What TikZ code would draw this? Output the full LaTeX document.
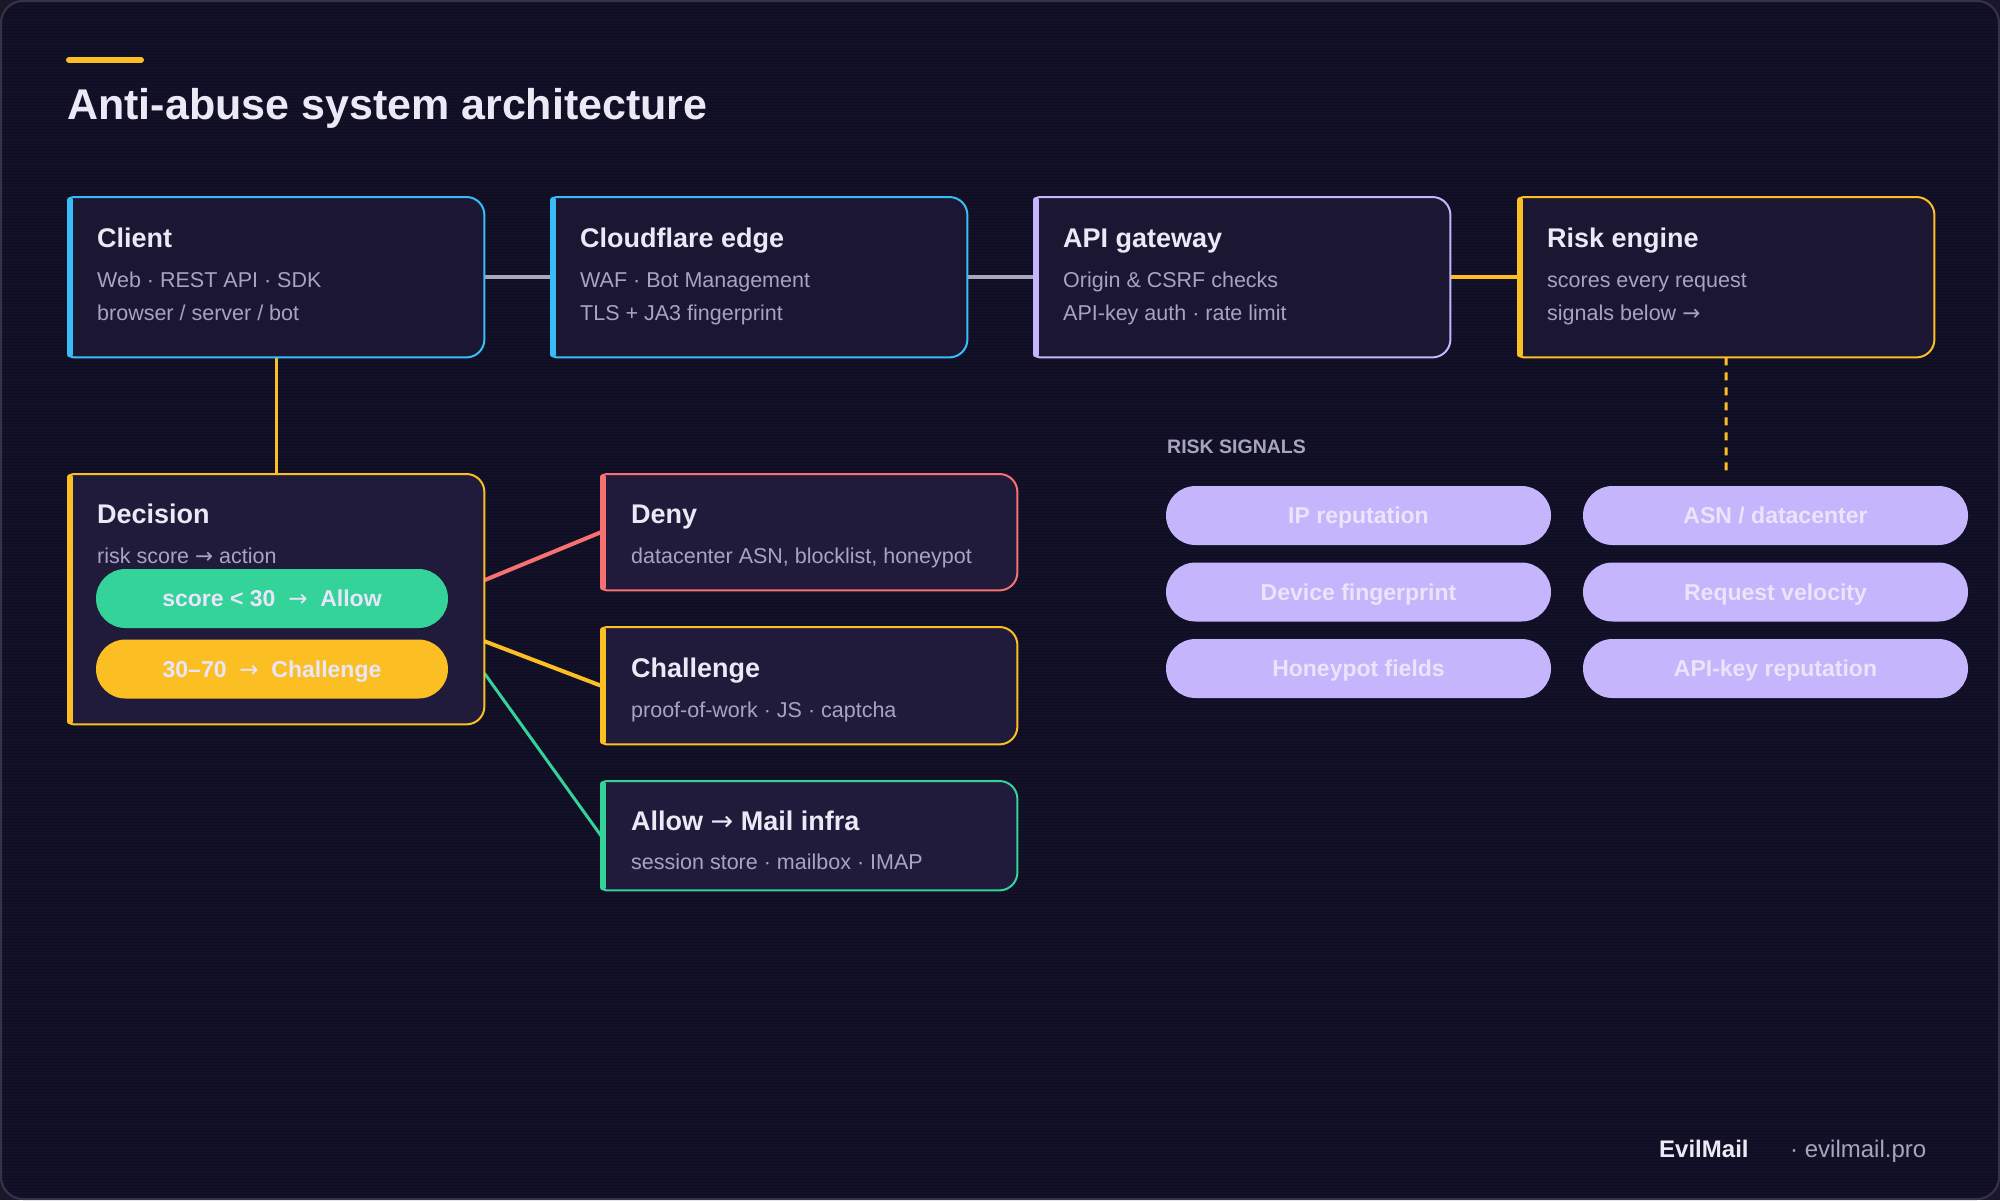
\documentclass[tikz,border=0pt]{standalone}
\usepackage{fontspec}
\setmainfont{Liberation Sans}
\newfontfamily\arrowfont{DejaVu Sans}
\newcommand{\arr}{{\arrowfont\mdseries →}}
\usetikzlibrary{calc}
\definecolor{page}{HTML}{1A1828}
\definecolor{bg}{HTML}{131128}
\definecolor{stripe}{HTML}{0F0D22}
\definecolor{framec}{HTML}{35334B}
\definecolor{cardA}{HTML}{1B1733}
\definecolor{cardB}{HTML}{211B3B}
\definecolor{cyanc}{HTML}{38BDF8}
\definecolor{lav}{HTML}{C4B5FD}
\definecolor{amber}{HTML}{FBBF24}
\definecolor{rose}{HTML}{F87171}
\definecolor{mint}{HTML}{34D399}
\definecolor{ink}{HTML}{ECE9F7}
\definecolor{muted}{HTML}{A8A4C0}
\definecolor{wire}{HTML}{A9A7BD}
\definecolor{pilltext}{HTML}{E9E5FB}
\newcommand{\fsz}[1]{\fontsize{#1}{#1}\selectfont}
\newcommand{\drawcard}[3]{%
  \draw[draw=#2, line width=2pt, fill=#3] (#1.west) [rounded corners=6pt] -- (#1.north west) -- (#1.north) [rounded corners=18pt] -- (#1.north east) -- (#1.south east) -- (#1.south) [rounded corners=6pt] -- (#1.south west) -- cycle;
  \draw[#2, line width=6pt, line cap=round] ([xshift=2pt,yshift=-3pt]#1.north west) -- ([xshift=2pt,yshift=3pt]#1.south west);
}
\tikzset{
  cardbox/.style={draw=none, inner sep=0pt, minimum width=416pt, anchor=north west},
  ttl/.style={anchor=base west, inner sep=0pt, text=ink, font=\bfseries\fsz{27}},
  sub/.style={anchor=base west, inner sep=0pt, text=muted, font=\fsz{21.5}},
  wireline/.style={line width=4pt},
  decpill/.style={inner sep=0pt, minimum width=352pt, minimum height=59pt, rounded corners=29.5pt, text=pilltext, font=\bfseries\fsz{23}, text height=16.5pt, text depth=0pt},
  sigpill/.style={inner sep=0pt, minimum width=385pt, minimum height=59pt, rounded corners=29.5pt, fill=lav, text=pilltext, font=\bfseries\fsz{23}, text height=16.5pt, text depth=0pt},
}
\begin{document}
\begin{tikzpicture}[x=1pt, y=-1pt]
\useasboundingbox (0,0) rectangle (2000,1200);
\fill[page] (0,0) rectangle (2000,1200);
\fill[bg, rounded corners=22pt] (1,1) rectangle (1999,1199);
\begin{scope}
  \clip[rounded corners=22pt] (1,1) rectangle (1999,1199);
  \foreach \i in {0,...,399} { \fill[stripe] (0,3*\i) rectangle (2000,3*\i+1); }
\end{scope}
\draw[framec, line width=2pt, rounded corners=22pt] (1,1) rectangle (1999,1199);

% header
\draw[amber, line width=6pt, line cap=round] (69,60) -- (141,60);
\node[anchor=base west, inner sep=0pt, text=ink, font=\bfseries\fsz{43}] (title) at (67,119) {Anti-abuse system architecture};

% card nodes
\node[cardbox, minimum height=160pt] (client) at (68,197) {};
\node[cardbox, minimum height=160pt] (cf) at (551,197) {};
\node[cardbox, minimum height=160pt] (api) at (1034,197) {};
\node[cardbox, minimum height=160pt] (risk) at (1518,197) {};
\node[cardbox, minimum height=250pt] (dec) at (68,474) {};
\node[cardbox, minimum height=116pt] (deny) at (601,474) {};
\node[cardbox, minimum height=117pt] (chal) at (601,627) {};
\node[cardbox, minimum height=109pt] (allowbox) at (601,781) {};
\coordinate (sigtop) at (1726,477);

% connectors
\draw[wire, wireline] (client.east) -- (cf.west);
\draw[wire, wireline] (cf.east) -- (api.west);
\draw[amber, wireline] (api.east) -- (risk.west);
\draw[amber, line width=3pt] (client.south) -- (dec.north);
\draw[amber, line width=3pt, dash pattern=on 8pt off 7pt] (risk.south) -- (sigtop);
\draw[rose, line width=4pt] ([yshift=19pt]dec.east) -- (deny.west);
\draw[amber, line width=4pt] ([yshift=-42pt]dec.east) -- (chal.west);
\draw[mint, line width=3pt] ([yshift=-74pt]dec.east) -- (allowbox.west);

% cards
\drawcard{client}{cyanc}{cardA}
\drawcard{cf}{cyanc}{cardA}
\drawcard{api}{lav}{cardA}
\drawcard{risk}{amber}{cardA}
\drawcard{dec}{amber}{cardB}
\drawcard{deny}{rose}{cardB}
\drawcard{chal}{amber}{cardB}
\drawcard{allowbox}{mint}{cardB}

% card texts
\node[ttl] (client-t) at (97,247) {Client};
\node[sub] (client-s1) at (97,287) {Web · REST API · SDK};
\node[sub] (client-s2) at (97,320) {browser / server / bot};

\node[ttl] (cf-t) at (580,247) {Cloudflare edge};
\node[sub] (cf-s1) at (580,287) {WAF · Bot Management};
\node[sub] (cf-s2) at (580,320) {TLS + JA3 fingerprint};

\node[ttl] (api-t) at (1063,247) {API gateway};
\node[sub] (api-s1) at (1063,287) {Origin \& CSRF checks};
\node[sub] (api-s2) at (1063,320) {API-key auth · rate limit};

\node[ttl] (risk-t) at (1547,247) {Risk engine};
\node[sub] (risk-s1) at (1547,287) {scores every request};
\node[sub] (risk-s2) at (1547,320) {signals below \arr};

\node[ttl] (dec-t) at (97,523) {Decision};
\node[sub] (dec-s) at (97,563) {risk score \arr\ action};
\node[decpill, fill=mint] (p-allow) at (272,598.5) {score < 30\ \ \arr\ \ Allow};
\node[decpill, fill=amber] (p-chal) at (272,669) {30–70\ \ \arr\ \ Challenge};

\node[ttl] (deny-t) at (631,523) {Deny};
\node[sub] (deny-s) at (631,563) {datacenter ASN, blocklist, honeypot};
\node[ttl] (chal-t) at (631,677) {Challenge};
\node[sub] (chal-s) at (631,717) {proof-of-work · JS · captcha};
\node[ttl] (allow-t) at (631,830) {Allow \arr\ Mail infra};
\node[sub] (allow-s) at (631,869) {session store · mailbox · IMAP};

% risk signals
\node[anchor=base west, inner sep=0pt, text=muted, font=\bfseries\fsz{19.5}] (sig-h) at (1167,453) {RISK SIGNALS};
\node[sigpill] (s1) at (1358.5,515.5) {IP reputation};
\node[sigpill] (s2) at (1775.5,515.5) {ASN / datacenter};
\node[sigpill] (s3) at (1358.5,592) {Device fingerprint};
\node[sigpill] (s4) at (1775.5,592) {Request velocity};
\node[sigpill] (s5) at (1358.5,668.5) {Honeypot fields};
\node[sigpill] (s6) at (1775.5,668.5) {API-key reputation};

% footer
\node[anchor=base west, inner sep=0pt, text=ink, font=\bfseries\fsz{24}] (brand) at (1659,1157) {EvilMail};
\node[anchor=base west, inner sep=0pt, text=muted, font=\fsz{24}] (url) at (1790,1157) {· evilmail.pro};
\end{tikzpicture}
\end{document}
